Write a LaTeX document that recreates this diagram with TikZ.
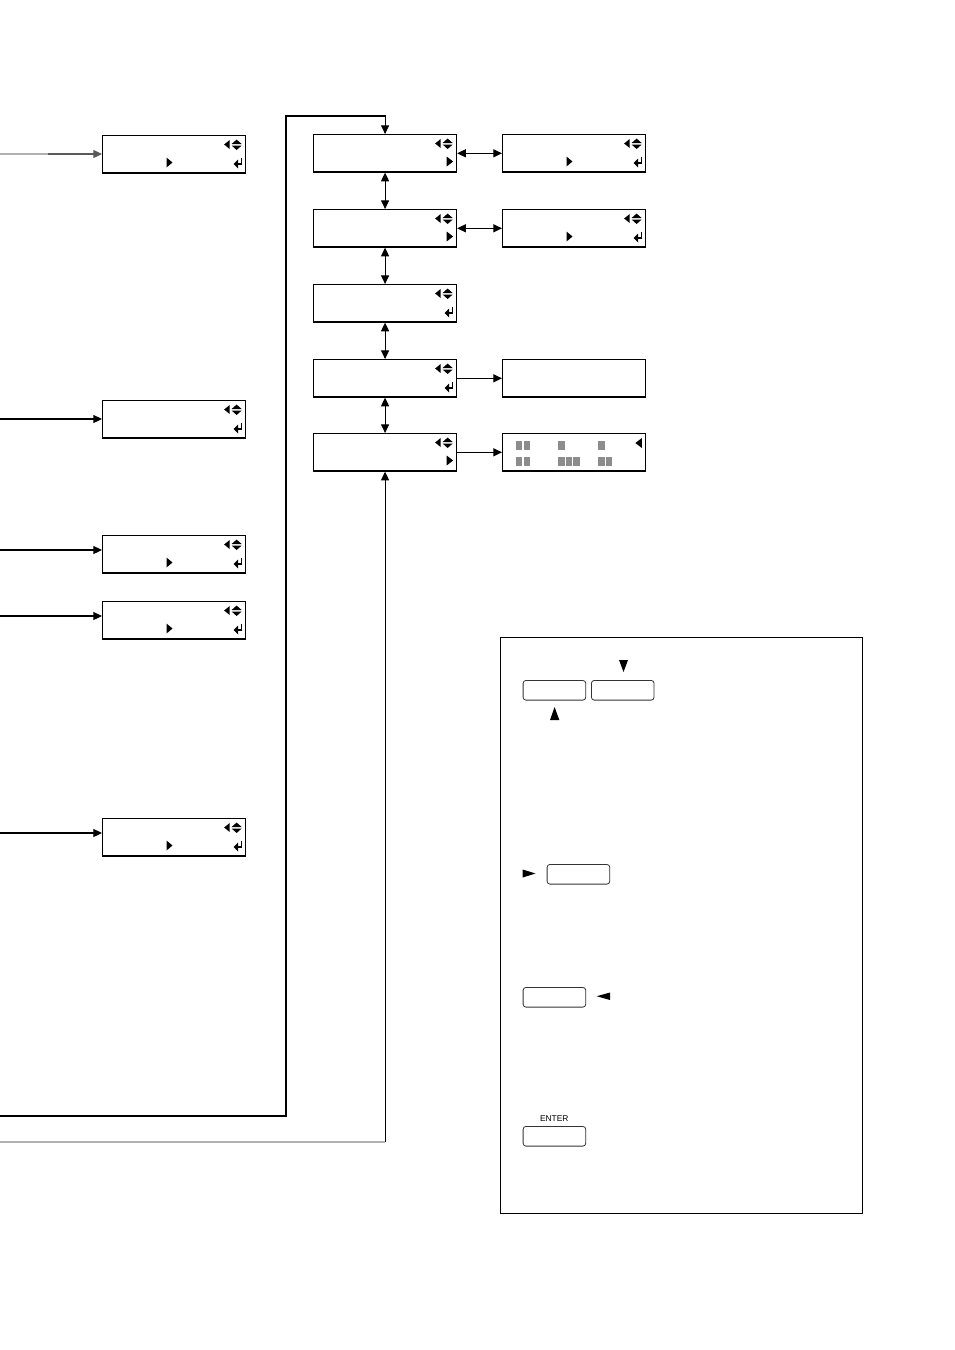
\documentclass[tikz,border=0pt]{standalone}
\usepackage{fontspec}
\newfontfamily\keyfont{Liberation Sans}
\usetikzlibrary{arrows.meta}
\newcommand\lcdTop[1]{%
 \begin{scope}[shift={(#1.north east)}]
  \fill (-16.5,5) -- (-16.5,14) -- (-22,9.5) -- cycle;
  \fill (-14.5,9) -- (-4.5,9) -- (-9.5,4.5) -- cycle;
  \fill (-14.5,10.5) -- (-4.5,10.5) -- (-9.5,15) -- cycle;
 \end{scope}}
\newcommand\lcdEnter[1]{%
 \begin{scope}[shift={(#1.north east)}]
  \draw[line width=1pt] (-4.5,22.5) -- (-4.5,29) -- (-9,29);
  \fill (-8,24.5) -- (-8,33.5) -- (-12.5,29) -- cycle;
 \end{scope}}
\newcommand\lcdRight[1]{%
 \begin{scope}[shift={(#1.north east)}]
  \fill (-10.5,22.5) -- (-10.5,32.5) -- (-4,27.5) -- cycle;
 \end{scope}}
\newcommand\lcdMid[1]{%
 \begin{scope}[shift={(#1.north west)}]
  \fill (64.5,22.5) -- (64.5,32.5) -- (70.5,27.5) -- cycle;
 \end{scope}}
\begin{document}
\begin{tikzpicture}[x=0.75pt,y=-0.75pt,
  lcd/.style={draw=black, line width=0.85pt, minimum width=107.25pt, minimum height=28.1pt, inner sep=0pt, anchor=north west},
  conn/.style={line width=0.8pt, draw=black},
  tipA/.style={-{Triangle[length=6.5pt,width=6pt]}},
  tipB/.style={{Triangle[length=6.5pt,width=6pt]}-{Triangle[length=6.5pt,width=6pt]}},
  keybox/.style={draw=black!80, line width=0.6pt, rounded corners=2.2pt, minimum width=47pt, minimum height=14.8pt, inner sep=0pt, anchor=north west},
  blk/.style={fill=black!45},
  frame/.style={draw=black, line width=1pt, minimum width=271.5pt, minimum height=432pt, inner sep=0pt, anchor=north west}
]
\useasboundingbox (0,0) rectangle (954,1350);

% left column
\node[lcd] (b1) at (102,135) {};
\node[lcd] (b2) at (102,400) {};
\node[lcd] (b3) at (102,535) {};
\node[lcd] (b4) at (102,601) {};
\node[lcd] (b5) at (102,818) {};
% middle column
\node[lcd] (m1) at (313,134) {};
\node[lcd] (m2) at (313,209) {};
\node[lcd] (m3) at (313,284) {};
\node[lcd] (m4) at (313,359) {};
\node[lcd] (m5) at (313,433) {};
% right column
\node[lcd] (r1) at (502,134) {};
\node[lcd] (r2) at (502,209) {};
\node[lcd] (r3) at (502,359) {};
\node[lcd] (r4) at (502,433) {};

% icons
\foreach \n in {b1,b3,b4,b5,r1,r2} {\lcdTop{\n}\lcdMid{\n}\lcdEnter{\n}}
\lcdTop{b2}\lcdEnter{b2}
\foreach \n in {m1,m2,m5} {\lcdTop{\n}\lcdRight{\n}}
\foreach \n in {m3,m4} {\lcdTop{\n}\lcdEnter{\n}}

% r4 grey blocks
\begin{scope}[shift={(r4.north west)}]
  \foreach \x in {14,21.5,56.3,96.3} {\fill[blk] (\x,8) rectangle ++(6.4,9.3);}
  \foreach \x in {14,21.5,56.3,63.8,71.3,96.3,103.8} {\fill[blk] (\x,24) rectangle ++(6.4,9.3);}
\end{scope}
\begin{scope}[shift={(r4.north east)}]
  \fill (-4.3,5) -- (-4.3,15) -- (-10.7,10) -- cycle;
\end{scope}

% incoming lines on the left
\coordinate (in1) at (0,154);
\coordinate (in1b) at (48,154);
\coordinate (in2) at (0,419);
\coordinate (in3) at (0,550);
\coordinate (in4) at (0,616);
\coordinate (in5) at (0,833);
\draw[line width=0.8pt, draw=black!30] (in1) -- (in1b);
\draw[line width=0.8pt, draw=black!65, tipA] (in1b) -- (in1b -| b1.west);
\draw[conn, tipA] (in2) -- (in2 -| b2.west);
\draw[conn, tipA] (in3) -- (in3 -| b3.west);
\draw[conn, tipA] (in4) -- (in4 -| b4.west);
\draw[conn, tipA] (in5) -- (in5 -| b5.west);

% loop to the top of the middle column
\coordinate (loopA) at (0,1116);
\coordinate (topA) at (286,116);
\draw[conn, tipA] (loopA) -| (topA) -| (m1.north);

% loop to the bottom of the middle column
\coordinate (loopB) at (0,1142);
\coordinate (cornerB) at (m5.south |- loopB);
\draw[line width=0.8pt, draw=black!30] (loopB) -- (cornerB);
\draw[conn, tipA] (cornerB) -- (m5.south);

% middle column connectors
\draw[conn, tipB] (m1.south) -- (m2.north);
\draw[conn, tipB] (m2.south) -- (m3.north);
\draw[conn, tipB] (m3.south) -- (m4.north);
\draw[conn, tipB] (m4.south) -- (m5.north);
\draw[conn, tipB] (m1.east) -- (r1.west);
\draw[conn, tipB] (m2.east) -- (r2.west);
\draw[conn, tipA] (m4.east) -- (r3.west);
\draw[conn, tipA] (m5.east) -- (r4.west);

% legend
\node[frame] (legend) at (500,637) {};
\node[keybox] (k1) at (522.7,680) {};
\node[keybox] (k2) at (591,680) {};
\node[keybox] (k3) at (546.7,864) {};
\node[keybox] (k4) at (522.7,987) {};
\node[keybox] (k5) at (522.7,1126) {};
\fill (619,660) -- (628,660) -- (623.5,672) -- cycle;
\fill (550,720) -- (559.3,720) -- (554.6,707) -- cycle;
\fill (522.7,869.5) -- (522.7,877.5) -- (535.5,873.5) -- cycle;
\fill (610,992.5) -- (610,1000) -- (596.7,996.2) -- cycle;
\node[inner sep=0pt, font=\keyfont\fontsize{6.3pt}{7pt}\selectfont] (entertxt) at (554.3,1118.3) {ENTER};

\end{tikzpicture}
\end{document}
